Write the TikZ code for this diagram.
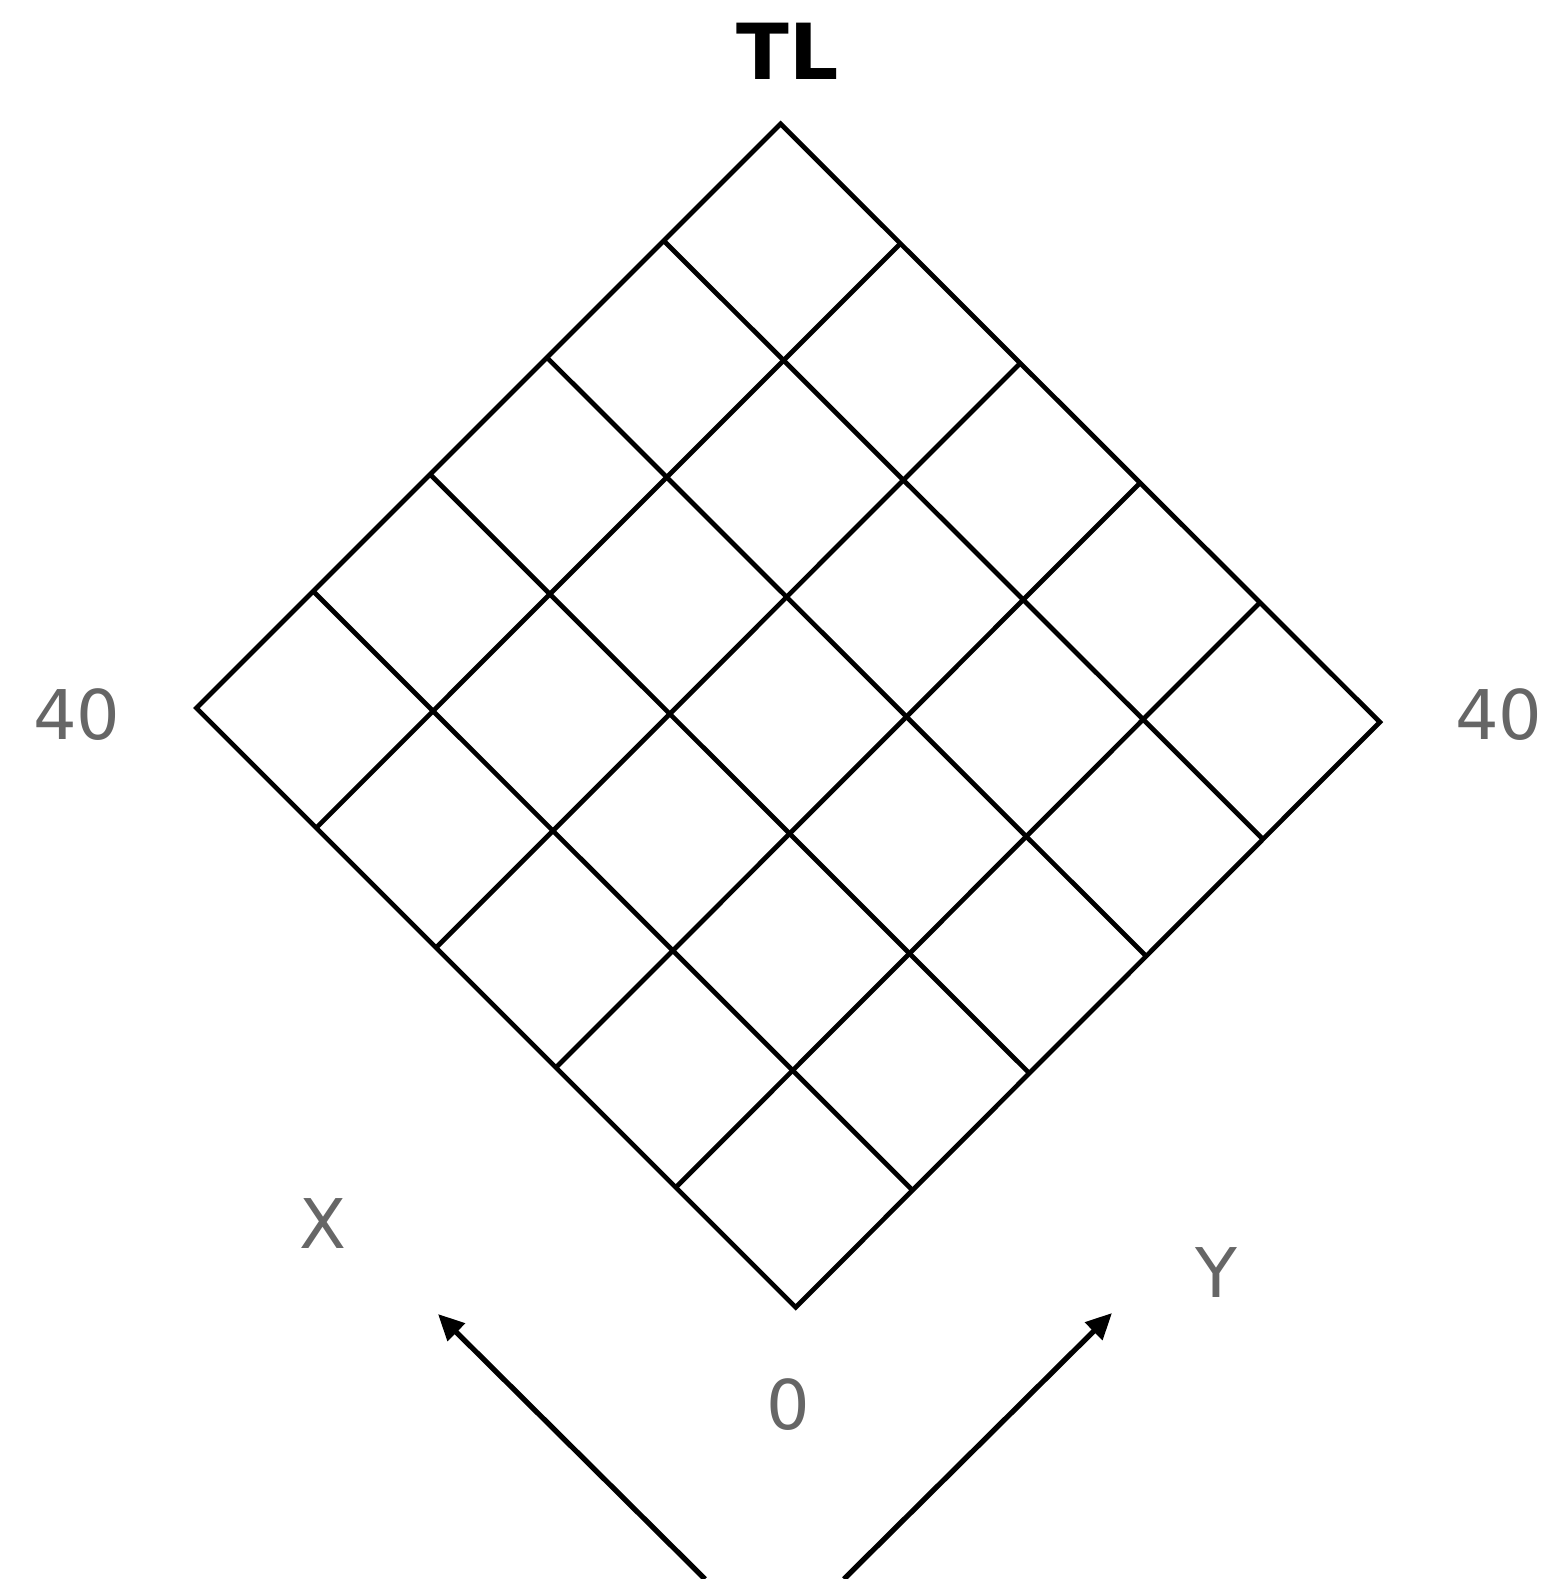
\documentclass[tikz,border=0pt]{standalone}
\usepackage{fontspec}
\setmainfont{DejaVu Sans}
\usetikzlibrary{arrows.meta,calc}
\definecolor{labelgray}{HTML}{666666}
\begin{document}
\begin{tikzpicture}[
    x=0.1mm, y=-0.1mm,
    >={Triangle[length=2.6mm, width=2.4mm]},
    gridline/.style={draw, line width=1.35pt},
    axisarrow/.style={->, line width=1.5pt},
    axislabel/.style={text=labelgray, font=\fontsize{19.5}{22}\selectfont, inner sep=0pt},
    titlelabel/.style={font=\fontsize{22}{26}\selectfont\bfseries, inner sep=0pt}
]
  \useasboundingbox (0,0) rectangle (1546,1579);

  % Esquinas del rombo
  \coordinate (top)    at (780.6,123.9);
  \coordinate (left)   at (196.4,708.0);
  \coordinate (right)  at (1379.8,722.1);
  \coordinate (bottom) at (795.7,1307.3);

  % Contorno
  \draw[gridline, line join=miter] (top) -- (right) -- (bottom) -- (left) -- cycle;

  % Lineas interiores de la rejilla
  \foreach \i in {1,...,4} {
    \draw[gridline] ($(top)!\i/5!(left)$) -- ($(right)!\i/5!(bottom)$);
    \draw[gridline] ($(top)!\i/5!(right)$) -- ($(left)!\i/5!(bottom)$);
  }

  % Etiquetas
  \node[titlelabel] (tl)   at (788,51)    {TL};
  \node[axislabel]  (lmax) at (76.7,715)  {40};
  \node[axislabel]  (rmax) at (1499,715)  {40};
  \node[axislabel]  (xlab) at (323,1223)  {X};
  \node[axislabel]  (ylab) at (1216,1272) {Y};
  \node[axislabel]  (orig) at (788,1405)  {0};

  % Ejes
  \coordinate (xs) at (705,1579);
  \coordinate (xe) at (438,1314);
  \coordinate (ys) at (844,1579);
  \coordinate (ye) at (1112,1313);
  \draw[axisarrow] (xs) -- (xe);
  \draw[axisarrow] (ys) -- (ye);

\end{tikzpicture}
\end{document}
